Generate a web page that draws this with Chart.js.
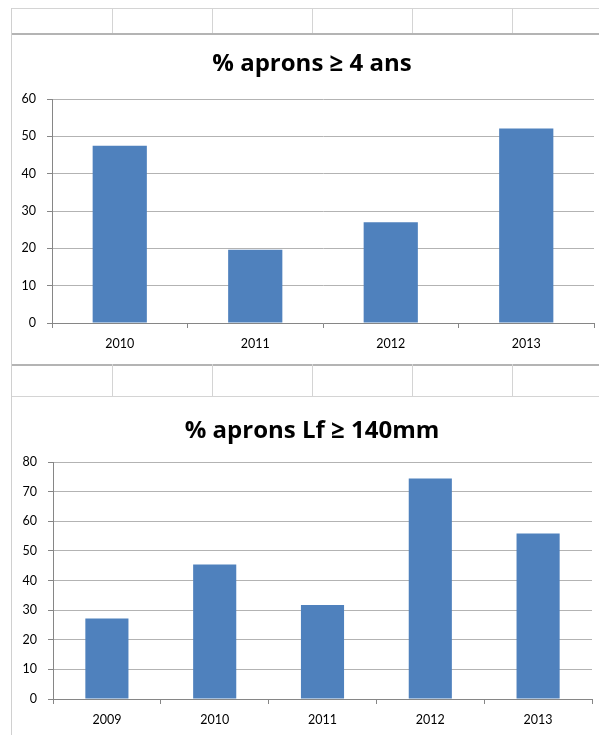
<!DOCTYPE html>
<html>
<head>
<meta charset="utf-8">
<script src="https://cdn.jsdelivr.net/npm/chart.js@4.4.1/dist/chart.umd.min.js"></script>
<style>
  html, body { margin: 0; padding: 0; background: #fff; }
  body { width: 599px; height: 735px; position: relative; overflow: hidden; font-family: Lato, "Open Sans", sans-serif; }
  .hline { position: absolute; left: 11px; right: 0; height: 1px; background: #d4d4d4; }
  .hline.dark { background: #b4b4b4; height: 2px; }
  .vline { position: absolute; width: 1px; background: #d4d4d4; }
  .box { position: absolute; left: 12px; width: 600px; }
  canvas { display: block; }
</style>
</head>
<body>
<!-- worksheet cell rows around the two embedded charts -->
<div class="hline" style="top:8px"></div>
<div class="hline dark" style="top:33px"></div>
<div class="hline dark" style="top:364px"></div>
<div class="hline" style="top:396px"></div>
<div class="vline" style="left:11px; top:8px; height:727px; background:#d0d0d0"></div>
<div id="cells"></div>

<div class="box" style="top:35px; height:329px"><canvas id="c1" width="600" height="329"></canvas></div>
<div class="box" style="top:397px; height:338px"><canvas id="c2" width="600" height="338"></canvas></div>

<script>
// Sheet column boundaries visible between the charts
const cellColumns = [112, 212, 312, 412, 512];

// Chart 1: share of aprons aged 4 years or more
const ageYears = ['2010', '2011', '2012', '2013'];
const ageShare = [47.5, 19.6, 27.0, 52.1];

// Chart 2: share of aprons with fork length of 140 mm or more
const lengthYears = ['2009', '2010', '2011', '2012', '2013'];
const lengthShare = [27.2, 45.4, 31.7, 74.4, 55.9];

const cells = document.getElementById('cells');
[[8, 25], [364, 32]].forEach(([top, h]) => {
  cellColumns.forEach(x => {
    const d = document.createElement('div');
    d.className = 'vline';
    d.style.left = x + 'px';
    d.style.top = top + 'px';
    d.style.height = h + 'px';
    cells.appendChild(d);
  });
});

const BAR = '#4f81bd';
const GRID = '#b3b3b3';
const AXIS = '#868686';
const FONT = 'Lato, "Open Sans", sans-serif';
const TITLE_FONT = '"Open Sans", Lato, sans-serif';

function makeChart(id, labels, values, title, yMax, opts) {
  return new Chart(document.getElementById(id), {
    type: 'bar',
    data: {
      labels: labels,
      datasets: [{
        data: values,
        backgroundColor: BAR,
        borderWidth: 0,
        barPercentage: 0.4,
        categoryPercentage: 1.0
      }]
    },
    options: {
      responsive: false,
      animation: false,
      devicePixelRatio: 1,
      layout: { padding: 0 },
      plugins: {
        legend: { display: false },
        tooltip: { enabled: false },
        title: {
          display: true,
          text: title,
          color: '#000',
          font: { family: TITLE_FONT, size: 24, weight: 'bold', lineHeight: 1.2 },
          padding: { top: opts.titleTop, bottom: opts.titleBottom }
        }
      },
      scales: {
        x: {
          grid: {
            offset: true,
            drawOnChartArea: false,
            drawTicks: true,
            tickLength: 5,
            color: AXIS
          },
          border: { display: true, color: AXIS, width: 1 },
          ticks: {
            color: '#000',
            font: { family: FONT, size: 12.5 },
            padding: opts.xPad,
            maxRotation: 0
          },
          // fixed axis band height and a right margin for the plot,
          // leaving the title centred on the whole chart object
          afterFit: s => { s.height = opts.xHeight; s.paddingRight = opts.right; }
        },
        y: {
          min: 0,
          max: yMax,
          grid: {
            color: GRID,
            lineWidth: 1,
            tickLength: 5,
            tickColor: AXIS,
            drawTicks: true
          },
          border: { display: true, color: AXIS, width: 1 },
          ticks: {
            stepSize: 10,
            color: '#000',
            font: { family: FONT, size: 12.5 },
            padding: 11
          },
          afterFit: s => { s.width = opts.yWidth; }
        }
      }
    }
  });
}

makeChart('c1', ageYears, ageShare, '% aprons \u2265 4 ans', 60,
  { right: 18, titleTop: 14.5, titleBottom: 20.7, xHeight: 41, xPad: 8, yWidth: 40 });
makeChart('c2', lengthYears, lengthShare, '% aprons Lf \u2265 140mm', 80,
  { right: 20, titleTop: 19.5, titleBottom: 16.7, xHeight: 36, xPad: 8, yWidth: 41 });
</script>
</body>
</html>
